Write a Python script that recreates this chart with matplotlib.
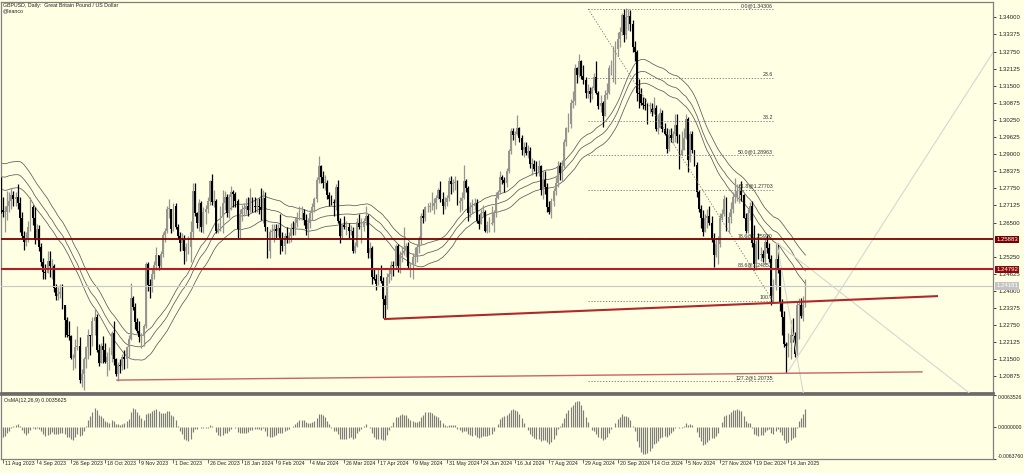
import numpy as np
import pandas as pd
import matplotlib
matplotlib.use('Agg')
import matplotlib.pyplot as plt
from matplotlib.transforms import blended_transform_factory

plt.rcParams['font.family'] = ['Liberation Sans', 'DejaVu Sans']

# ---------------- data ----------------
# warm-up history (13 Jun 2023 - 10 Aug 2023), off-screen, used by the indicators
pre_close = [1.2610, 1.2640, 1.2780, 1.2820, 1.2790, 1.2765, 1.2745, 1.2745, 1.2720, 1.2715,
             1.2710, 1.2645, 1.2620, 1.2700, 1.2690, 1.2720, 1.2710, 1.2745, 1.2835, 1.2860,
             1.2930, 1.2990, 1.3095, 1.3085, 1.3075, 1.3005, 1.2935, 1.2865, 1.2855, 1.2820,
             1.2890, 1.2945, 1.2795, 1.2850, 1.2835, 1.2780, 1.2720, 1.2710, 1.2750, 1.2785,
             1.2715, 1.2710, 1.2695]
pre_high = [1.2680, 1.2665, 1.2790, 1.2850, 1.2825, 1.2810, 1.2800, 1.2840, 1.2765, 1.2760,
            1.2760, 1.2720, 1.2660, 1.2715, 1.2735, 1.2730, 1.2750, 1.2770, 1.2850, 1.2870,
            1.2950, 1.3000, 1.3140, 1.3143, 1.3115, 1.3105, 1.3005, 1.2945, 1.2885, 1.2860,
            1.2910, 1.2995, 1.2995, 1.2870, 1.2880, 1.2845, 1.2800, 1.2760, 1.2785, 1.2790,
            1.2790, 1.2760, 1.2818]
pre_low = [1.2530, 1.2590, 1.2615, 1.2765, 1.2760, 1.2730, 1.2700, 1.2700, 1.2650, 1.2700,
           1.2695, 1.2630, 1.2590, 1.2610, 1.2660, 1.2675, 1.2680, 1.2675, 1.2735, 1.2790,
           1.2850, 1.2905, 1.2985, 1.3060, 1.3050, 1.2990, 1.2860, 1.2845, 1.2810, 1.2800,
           1.2795, 1.2880, 1.2780, 1.2765, 1.2820, 1.2760, 1.2710, 1.2620, 1.2680, 1.2725,
           1.2690, 1.2700, 1.2685]
first_open = 1.2585

# visible daily bars, 11 Aug 2023 - 24 Jan 2025
close = [1.2690,
         1.2690, 1.2710, 1.2730, 1.2750, 1.2735, 1.2745, 1.2720, 1.2665, 1.2600, 1.2580,
         1.2595, 1.2635, 1.2705, 1.2665, 1.2585, 1.2625, 1.2560, 1.2505, 1.2470, 1.2465,
         1.2510, 1.2490, 1.2490, 1.2410, 1.2380, 1.2390, 1.2395, 1.2350, 1.2295, 1.2240,
         1.2235, 1.2155, 1.2155, 1.2195, 1.2200, 1.2075, 1.2095, 1.2150, 1.2195, 1.2240,
         1.2235, 1.2290, 1.2305, 1.2185, 1.2135, 1.2200, 1.2185, 1.2140, 1.2160, 1.2165,
         1.2245, 1.2150, 1.2095, 1.2130, 1.2125, 1.2160, 1.2150, 1.2195, 1.2225, 1.2375,
         1.2340, 1.2285, 1.2255, 1.2230, 1.2235, 1.2270, 1.2500, 1.2420, 1.2415, 1.2460,
         1.2495, 1.2530, 1.2490, 1.2535, 1.2605, 1.2620, 1.2700, 1.2700, 1.2625, 1.2710,
         1.2635, 1.2600, 1.2575, 1.2590, 1.2545, 1.2560, 1.2560, 1.2615, 1.2765, 1.2685,
         1.2650, 1.2720, 1.2635, 1.2690, 1.2700, 1.2730, 1.2800, 1.2725, 1.2730,
         1.2620, 1.2625, 1.2675, 1.2720, 1.2745, 1.2685, 1.2745, 1.2760, 1.2755,
         1.2730, 1.2625, 1.2680, 1.2700, 1.2700, 1.2710, 1.2695, 1.2740, 1.2710, 1.2705,
         1.2710, 1.2705, 1.2695, 1.2740, 1.2635, 1.2545, 1.2615, 1.2620, 1.2625, 1.2620,
         1.2630, 1.2595, 1.2565, 1.2600, 1.2595, 1.2600, 1.2630, 1.2625, 1.2650, 1.2670,
         1.2685, 1.2685, 1.2660, 1.2625, 1.2650, 1.2685, 1.2705, 1.2735, 1.2805, 1.2855,
         1.2815, 1.2795, 1.2795, 1.2750, 1.2735, 1.2725, 1.2720, 1.2780, 1.2655, 1.2600,
         1.2640, 1.2635, 1.2635, 1.2620, 1.2620, 1.2545, 1.2565, 1.2650, 1.2635, 1.2635,
         1.2655, 1.2675, 1.2540, 1.2555, 1.2450, 1.2445, 1.2425, 1.2455, 1.2435, 1.2370,
         1.2350, 1.2450, 1.2460, 1.2495, 1.2490, 1.2565, 1.2490, 1.2530, 1.2540, 1.2545,
         1.2565, 1.2490, 1.2495, 1.2525, 1.2525, 1.2560, 1.2585, 1.2675, 1.2665, 1.2705,
         1.2705, 1.2710, 1.2710, 1.2720, 1.2740, 1.2770, 1.2735, 1.2710, 1.2725, 1.2740,
         1.2800, 1.2790, 1.2795, 1.2795, 1.2720, 1.2730, 1.2740, 1.2800, 1.2775, 1.2685,
         1.2705, 1.2710, 1.2720, 1.2655, 1.2645, 1.2685, 1.2690, 1.2620, 1.2640, 1.2645,
         1.2650, 1.2685, 1.2740, 1.2760, 1.2815, 1.2805, 1.2795, 1.2840, 1.2910, 1.2985,
         1.2970, 1.2975, 1.2995, 1.2960, 1.2915, 1.2925, 1.2905, 1.2910, 1.2865, 1.2865,
         1.2845, 1.2830, 1.2855, 1.2770, 1.2805, 1.2780, 1.2705, 1.2690, 1.2730, 1.2765,
         1.2795, 1.2855, 1.2830, 1.2855, 1.2945, 1.2995, 1.3010, 1.3085, 1.3095, 1.3215,
         1.3190, 1.3240, 1.3185, 1.3170, 1.3125, 1.3130, 1.3120, 1.3140, 1.3180, 1.3125,
         1.3075, 1.3085, 1.3040, 1.3115, 1.3125, 1.3215, 1.3215, 1.3215, 1.3285, 1.3320,
         1.3345, 1.3410, 1.3335, 1.3400, 1.3405, 1.3375, 1.3290, 1.3275, 1.3125, 1.3120,
         1.3085, 1.3080, 1.3075, 1.3065, 1.3065, 1.3055, 1.3070, 1.2990, 1.2995, 1.3050,
         1.2990, 1.2975, 1.2920, 1.2970, 1.2960, 1.2975, 1.3005, 1.2965, 1.2895, 1.2915,
         1.2960, 1.3030, 1.2880, 1.2975, 1.2915, 1.2860, 1.2760, 1.2700, 1.2665, 1.2615,
         1.2665, 1.2675, 1.2650, 1.2590, 1.2530, 1.2570, 1.2570, 1.2665, 1.2680, 1.2735,
         1.2650, 1.2670, 1.2700, 1.2745, 1.2745, 1.2765, 1.2765, 1.2750, 1.2665, 1.2620,
         1.2685, 1.2710, 1.2575, 1.2500, 1.2570, 1.2530, 1.2535, 1.2520, 1.2580, 1.2555,
         1.2515, 1.2380, 1.2420, 1.2515, 1.2480, 1.2355, 1.2305, 1.2205,
         1.2200, 1.2210, 1.2240, 1.2235, 1.2170, 1.2350, 1.2350, 1.2310, 1.2350, 1.2418]

high = [1.2745,
        1.2710, 1.2765, 1.2760, 1.2775, 1.2765, 1.2760, 1.2790, 1.2745, 1.2690, 1.2620,
        1.2615, 1.2655, 1.2745, 1.2715, 1.2705, 1.2645, 1.2640, 1.2575, 1.2520, 1.2500,
        1.2545, 1.2545, 1.2515, 1.2500, 1.2425, 1.2415, 1.2425, 1.2425, 1.2335, 1.2305,
        1.2290, 1.2240, 1.2170, 1.2225, 1.2270, 1.2230, 1.2115, 1.2160, 1.2200, 1.2260,
        1.2240, 1.2305, 1.2335, 1.2315, 1.2205, 1.2210, 1.2235, 1.2210, 1.2175, 1.2195,
        1.2255, 1.2290, 1.2155, 1.2140, 1.2150, 1.2170, 1.2185, 1.2200, 1.2240, 1.2430,
        1.2380, 1.2355, 1.2300, 1.2290, 1.2245, 1.2280, 1.2505, 1.2505, 1.2445, 1.2480,
        1.2510, 1.2560, 1.2525, 1.2545, 1.2615, 1.2630, 1.2710, 1.2735, 1.2700, 1.2720,
        1.2720, 1.2645, 1.2615, 1.2610, 1.2605, 1.2575, 1.2600, 1.2655, 1.2795, 1.2795,
        1.2690, 1.2735, 1.2730, 1.2705, 1.2715, 1.2745, 1.2805, 1.2827, 1.2770,
        1.2735, 1.2650, 1.2710, 1.2770, 1.2765, 1.2755, 1.2755, 1.2785, 1.2770,
        1.2760, 1.2735, 1.2700, 1.2715, 1.2720, 1.2740, 1.2745, 1.2775, 1.2745, 1.2745,
        1.2735, 1.2740, 1.2775, 1.2770, 1.2760, 1.2630, 1.2625, 1.2645, 1.2645, 1.2645,
        1.2645, 1.2680, 1.2615, 1.2610, 1.2635, 1.2615, 1.2650, 1.2655, 1.2670, 1.2690,
        1.2710, 1.2710, 1.2700, 1.2680, 1.2665, 1.2695, 1.2720, 1.2745, 1.2815, 1.2893,
        1.2860, 1.2840, 1.2825, 1.2805, 1.2760, 1.2750, 1.2735, 1.2790, 1.2805, 1.2665,
        1.2650, 1.2675, 1.2655, 1.2650, 1.2640, 1.2635, 1.2580, 1.2665, 1.2680, 1.2665,
        1.2665, 1.2710, 1.2680, 1.2580, 1.2565, 1.2485, 1.2460, 1.2480, 1.2495, 1.2450,
        1.2385, 1.2465, 1.2485, 1.2510, 1.2510, 1.2570, 1.2570, 1.2545, 1.2565, 1.2635,
        1.2575, 1.2580, 1.2505, 1.2540, 1.2560, 1.2570, 1.2600, 1.2685, 1.2700, 1.2710,
        1.2720, 1.2725, 1.2760, 1.2740, 1.2750, 1.2775, 1.2800, 1.2760, 1.2745, 1.2750,
        1.2815, 1.2820, 1.2810, 1.2820, 1.2805, 1.2745, 1.2760, 1.2860, 1.2810, 1.2785,
        1.2725, 1.2735, 1.2740, 1.2735, 1.2680, 1.2700, 1.2715, 1.2695, 1.2655, 1.2670,
        1.2710, 1.2695, 1.2760, 1.2770, 1.2840, 1.2825, 1.2815, 1.2850, 1.2920, 1.2995,
        1.2995, 1.2985, 1.3044, 1.3000, 1.2970, 1.2945, 1.2945, 1.2935, 1.2925, 1.2885,
        1.2880, 1.2875, 1.2880, 1.2860, 1.2840, 1.2840, 1.2795, 1.2730, 1.2740, 1.2775,
        1.2815, 1.2875, 1.2870, 1.2880, 1.2955, 1.3000, 1.3050, 1.3100, 1.3130, 1.3230,
        1.3220, 1.3266, 1.3245, 1.3225, 1.3180, 1.3155, 1.3145, 1.3150, 1.3195, 1.3240,
        1.3130, 1.3115, 1.3095, 1.3135, 1.3160, 1.3225, 1.3245, 1.3295, 1.3315, 1.3345,
        1.3365, 1.3415, 1.3430, 1.3434, 1.3430, 1.3425, 1.3390, 1.3315, 1.3280, 1.3175,
        1.3140, 1.3110, 1.3105, 1.3085, 1.3090, 1.3085, 1.3110, 1.3080, 1.3045, 1.3070,
        1.3060, 1.3015, 1.2995, 1.2990, 1.2995, 1.2985, 1.3045, 1.3045, 1.2975, 1.2985,
        1.2995, 1.3045, 1.3035, 1.2985, 1.2985, 1.2915, 1.2870, 1.2770, 1.2715, 1.2695,
        1.2680, 1.2700, 1.2710, 1.2675, 1.2610, 1.2595, 1.2600, 1.2685, 1.2700, 1.2750,
        1.2745, 1.2690, 1.2725, 1.2760, 1.2811, 1.2790, 1.2790, 1.2800, 1.2755, 1.2685,
        1.2700, 1.2725, 1.2730, 1.2640, 1.2585, 1.2610, 1.2560, 1.2550, 1.2595, 1.2605,
        1.2575, 1.2530, 1.2445, 1.2575, 1.2575, 1.2480, 1.2370, 1.2325,
        1.2215, 1.2245, 1.2295, 1.2300, 1.2250, 1.2360, 1.2375, 1.2375, 1.2380, 1.2445]

low = [1.2670,
       1.2615, 1.2660, 1.2690, 1.2700, 1.2710, 1.2710, 1.2700, 1.2615, 1.2590, 1.2550,
       1.2565, 1.2580, 1.2620, 1.2640, 1.2570, 1.2585, 1.2545, 1.2490, 1.2445, 1.2445,
       1.2465, 1.2450, 1.2445, 1.2395, 1.2365, 1.2365, 1.2375, 1.2335, 1.2230, 1.2230,
       1.2220, 1.2150, 1.2110, 1.2120, 1.2185, 1.2065, 1.2050, 1.2037, 1.2120, 1.2150,
       1.2165, 1.2200, 1.2240, 1.2175, 1.2125, 1.2140, 1.2135, 1.2135, 1.2090, 1.2110,
       1.2140, 1.2130, 1.2090, 1.2070, 1.2100, 1.2110, 1.2115, 1.2120, 1.2160, 1.2220,
       1.2330, 1.2260, 1.2245, 1.2215, 1.2190, 1.2200, 1.2265, 1.2400, 1.2375, 1.2395,
       1.2445, 1.2475, 1.2475, 1.2480, 1.2525, 1.2580, 1.2610, 1.2665, 1.2610, 1.2620,
       1.2625, 1.2590, 1.2545, 1.2550, 1.2500, 1.2510, 1.2535, 1.2505, 1.2595, 1.2675,
       1.2630, 1.2620, 1.2615, 1.2610, 1.2645, 1.2685, 1.2715, 1.2715, 1.2705,
       1.2610, 1.2610, 1.2620, 1.2610, 1.2695, 1.2670, 1.2665, 1.2695, 1.2705,
       1.2705, 1.2595, 1.2595, 1.2655, 1.2675, 1.2680, 1.2675, 1.2690, 1.2690, 1.2690,
       1.2690, 1.2680, 1.2660, 1.2650, 1.2620, 1.2520, 1.2520, 1.2590, 1.2580, 1.2595,
       1.2600, 1.2535, 1.2545, 1.2535, 1.2575, 1.2575, 1.2580, 1.2605, 1.2605, 1.2635,
       1.2660, 1.2660, 1.2640, 1.2605, 1.2595, 1.2630, 1.2660, 1.2690, 1.2725, 1.2795,
       1.2795, 1.2775, 1.2770, 1.2735, 1.2710, 1.2715, 1.2675, 1.2695, 1.2650, 1.2575,
       1.2590, 1.2625, 1.2605, 1.2595, 1.2605, 1.2540, 1.2540, 1.2560, 1.2625, 1.2575,
       1.2620, 1.2640, 1.2520, 1.2520, 1.2425, 1.2440, 1.2405, 1.2420, 1.2430, 1.2300,
       1.2300, 1.2335, 1.2430, 1.2440, 1.2455, 1.2480, 1.2470, 1.2465, 1.2505, 1.2530,
       1.2525, 1.2480, 1.2450, 1.2445, 1.2500, 1.2505, 1.2540, 1.2570, 1.2650, 1.2655,
       1.2690, 1.2690, 1.2695, 1.2680, 1.2700, 1.2735, 1.2725, 1.2680, 1.2700, 1.2710,
       1.2730, 1.2755, 1.2760, 1.2770, 1.2715, 1.2690, 1.2695, 1.2735, 1.2760, 1.2655,
       1.2670, 1.2685, 1.2695, 1.2650, 1.2625, 1.2650, 1.2670, 1.2615, 1.2610, 1.2615,
       1.2640, 1.2615, 1.2670, 1.2735, 1.2755, 1.2790, 1.2760, 1.2780, 1.2830, 1.2900,
       1.2950, 1.2935, 1.2970, 1.2945, 1.2895, 1.2890, 1.2895, 1.2885, 1.2850, 1.2825,
       1.2840, 1.2820, 1.2820, 1.2750, 1.2735, 1.2755, 1.2690, 1.2680, 1.2665, 1.2710,
       1.2750, 1.2780, 1.2805, 1.2800, 1.2850, 1.2930, 1.2980, 1.2995, 1.3070, 1.3080,
       1.3160, 1.3180, 1.3175, 1.3155, 1.3105, 1.3105, 1.3090, 1.3100, 1.3135, 1.3120,
       1.3065, 1.3055, 1.3000, 1.3040, 1.3100, 1.3120, 1.3190, 1.3165, 1.3155, 1.3260,
       1.3290, 1.3335, 1.3310, 1.3320, 1.3355, 1.3350, 1.3275, 1.3240, 1.3095, 1.3070,
       1.3080, 1.3065, 1.3060, 1.3010, 1.3050, 1.3040, 1.3045, 1.2985, 1.2975, 1.2995,
       1.2980, 1.2970, 1.2905, 1.2910, 1.2945, 1.2940, 1.2945, 1.2940, 1.2845, 1.2895,
       1.2920, 1.2955, 1.2835, 1.2870, 1.2905, 1.2855, 1.2745, 1.2690, 1.2630, 1.2600,
       1.2615, 1.2630, 1.2640, 1.2580, 1.2487, 1.2525, 1.2500, 1.2560, 1.2660, 1.2675,
       1.2620, 1.2610, 1.2650, 1.2685, 1.2720, 1.2730, 1.2720, 1.2730, 1.2665, 1.2610,
       1.2610, 1.2660, 1.2560, 1.2475, 1.2475, 1.2515, 1.2510, 1.2505, 1.2500, 1.2540,
       1.2505, 1.2350, 1.2355, 1.2405, 1.2465, 1.2325, 1.2240, 1.2195,
       1.2100, 1.2160, 1.2150, 1.2215, 1.2160, 1.2160, 1.2225, 1.2300, 1.2290, 1.2340]

date_labels = ['11 Aug 2023', '4 Sep 2023', '26 Sep 2023', '18 Oct 2023', '9 Nov 2023',
               '1 Dec 2023', '26 Dec 2023', '18 Jan 2024', '9 Feb 2024', '4 Mar 2024',
               '26 Mar 2024', '17 Apr 2024', '9 May 2024', '31 May 2024', '24 Jun 2024',
               '16 Jul 2024', '7 Aug 2024', '29 Aug 2024', '20 Sep 2024', '14 Oct 2024',
               '5 Nov 2024', '27 Nov 2024', '19 Dec 2024', '14 Jan 2025']
date_label_bars = [0, 16, 32, 48, 64, 80, 96, 112, 128, 144, 160, 176, 192, 208, 224,
                   240, 256, 272, 288, 304, 320, 336, 352, 368]

price_ticks = [1.34000, 1.33375, 1.32750, 1.32125, 1.31500, 1.30875, 1.30250, 1.29625,
               1.29000, 1.28375, 1.27750, 1.27125, 1.26500, 1.25250, 1.24625, 1.24000,
               1.23375, 1.22750, 1.22125, 1.21500, 1.20875]
osma_ticks = [0.0063526, 0.0, -0.0063760]
osma_tick_labels = ['0.0063526', '0.0000000', '-0.0063760']

level_dark = 1.25883
level_red = 1.24792
bid_price = 1.24181

# drawn objects (bar index, price)
trend_red = [(178.6, 1.2297), (438.1, 1.2381)]
trend_low = [(53.5, 1.2074), (430.6, 1.2104)]
fan_up = [(367.4, 1.2100), (470.0, 1.3346)]
fan_down = [(362.7, 1.2575), (470.0, 1.1922)]
fan_steep = [(362.7, 1.2575), (376.0, 1.1982)]

fib_high = 1.34306
fib_low = 1.23620
fib_x = [274.2, 360.8]
fib_levels = [0.0, 23.6, 38.2, 50.0, 61.8, 78.6, 88.6, 100.0, 127.2]
fib_labels = ['0.0@1.34306', '23.6', '38.2', '50.0@1.28963', '61.8@1.27703',
              '78.6@1.25920', '88.6@1.24853', '100.0', '127.2@1.20735']

# ---------------- build series ----------------
c_all = np.array(pre_close + close)
h_all = np.array(pre_high + high)
l_all = np.array(pre_low + low)
n_pre = len(pre_close)
x_all = np.arange(len(c_all)) - n_pre
o_all = np.r_[first_open, c_all[:-1]]

ma_h = pd.Series(h_all).rolling(34).mean().values
ma_c = pd.Series(c_all).rolling(34).mean().values
ma_l = pd.Series(l_all).rolling(34).mean().values

cs = pd.Series(c_all)
macd = cs.ewm(span=12, adjust=False).mean() - cs.ewm(span=26, adjust=False).mean()
signal = macd.rolling(9, min_periods=1).mean()
osma = (macd - signal).values

# ---------------- figure ----------------
BG = '#FFFFE4'
W, H = 1024, 473
fig = plt.figure(figsize=(W / 100, H / 100), dpi=100, facecolor=BG)
ax = fig.add_axes([1 / W, 1 - 393 / H, 992 / W, 391 / H], facecolor=BG)
ax2 = fig.add_axes([1 / W, 1 - 459 / H, 992 / W, 64 / H], facecolor=BG)

x_lo, x_hi = (1 - 2.7) / 2.135, (993 - 2.7) / 2.135
y_top = 1.34 + (17.3 - 2) / 2736
y_bot = 1.34 - (393 - 17.3) / 2736
ax.set_xlim(x_lo, x_hi)
ax.set_ylim(y_bot, y_top)
ax2.set_xlim(x_lo, x_hi)
ax2.set_ylim(-0.0063760, 0.0063526)

# moving-average channel
for m in (ma_h, ma_c, ma_l):
    ax.plot(x_all, m, color='#5A5A5A', lw=0.55, zorder=2)

# candles
up = c_all >= o_all
col = np.where(up, '#96968F', '#000000')
top = np.maximum.reduce([h_all, o_all, c_all])
bot = np.minimum.reduce([l_all, o_all, c_all])
ax.vlines(x_all, bot, top, colors=col, lw=0.9, zorder=3)
body_lo = np.minimum(o_all, c_all)
body_h = np.maximum(np.abs(c_all - o_all), 0.00015)
ax.bar(x_all, body_h, bottom=body_lo, width=0.88, color=col, lw=0, zorder=3)

# horizontal levels
ax.axhline(bid_price, color='#C8C8C8', lw=0.8, zorder=4)
ax.axhline(level_dark, color='#7A0000', lw=1.3, zorder=5)
ax.axhline(level_red, color='#B02020', lw=1.5, zorder=5)

# trend lines
ax.plot(*zip(*trend_red), color='#B02828', lw=1.5, zorder=5, solid_capstyle='butt')
ax.plot(*zip(*trend_low), color='#C86464', lw=1.0, zorder=5)
for seg in (fan_up, fan_down, fan_steep):
    ax.plot(*zip(*seg), color='#D6D6CE', lw=0.8, zorder=4)

# fibonacci
rng = fib_high - fib_low
for lev, lab in zip(fib_levels, fib_labels):
    p = fib_high - lev / 100.0 * rng
    ax.plot(fib_x, [p, p], color='#707070', lw=0.6, ls=(0, (1.5, 2)), zorder=4)
    ax.annotate(lab, xy=(fib_x[1], p), xytext=(0, 0.6), textcoords='offset points',
                ha='right', va='bottom', fontsize=3.8, color='#333333', zorder=6)
ax.plot(fib_x, [fib_high, fib_low], color='#707070', lw=0.6, ls=(0, (1.5, 2)), zorder=4)

# oscillator histogram
ax2.vlines(x_all, 0, osma, colors='#7E7E78', lw=0.85)

# ---------------- axes styling ----------------
for a in (ax, ax2):
    for s in a.spines.values():
        s.set_color('#808080')
        s.set_linewidth(0.9)
    a.yaxis.tick_right()
ax.spines['bottom'].set_color('#6A6A6A')
ax.spines['bottom'].set_linewidth(2.0)
ax2.spines['top'].set_color('#6A6A6A')
ax2.spines['top'].set_linewidth(1.2)

ax.set_xticks([])
ax.set_yticks(price_ticks)
ax.set_yticklabels(['%.5f' % p for p in price_ticks])
ax.tick_params(axis='y', length=2.5, width=0.6, pad=1.5, labelsize=4.3, colors='#222222')

ax2.set_yticks(osma_ticks)
ax2.set_yticklabels(osma_tick_labels)
ax2.tick_params(axis='y', length=2.5, width=0.6, pad=1.0, labelsize=3.7, colors='#222222')
labs = ax2.get_yticklabels()
labs[0].set_va('top')
labs[2].set_va('bottom')

ax2.set_xticks(date_label_bars)
ax2.tick_params(axis='x', length=3, width=0.6, direction='out', labelbottom=False, color='#555555')
tr = blended_transform_factory(ax2.transData, ax2.transAxes)
for b, lab in zip(date_label_bars, date_labels):
    ax2.annotate(lab, xy=(b, 0), xycoords=tr, xytext=(1.4, -1.6), textcoords='offset points',
                 ha='left', va='top', fontsize=3.8, color='#222222', annotation_clip=False)

# price boxes on the axis
ytr = blended_transform_factory(ax.transAxes, ax.transData)
for p, fc in ((level_dark, '#7A0000'), (level_red, '#8E0A0A'), (bid_price, '#C4C4C4')):
    ax.text(1.0035, p, '%.5f' % p, transform=ytr, ha='left', va='center', fontsize=4.3,
            color='white', zorder=10, clip_on=False,
            bbox=dict(boxstyle='square,pad=0.18', fc=fc, ec='none'))

# titles
fig.text(3 / W, 1 - 5 / H, 'GBPUSD, Daily:  Great Britain Pound / US Dollar', fontsize=3.8,
         va='center', ha='left', color='#222222')
fig.text(3 / W, 1 - 11 / H, '@leanco', fontsize=3.8, va='center', ha='left', color='#222222')
ax2.text(3 / 992, 1 - 5 / 64, 'OsMA(12,26,9) 0.0035625', transform=ax2.transAxes,
         fontsize=3.8, va='center', ha='left', color='#222222')

fig.savefig('out.png', dpi=100, facecolor=BG)
